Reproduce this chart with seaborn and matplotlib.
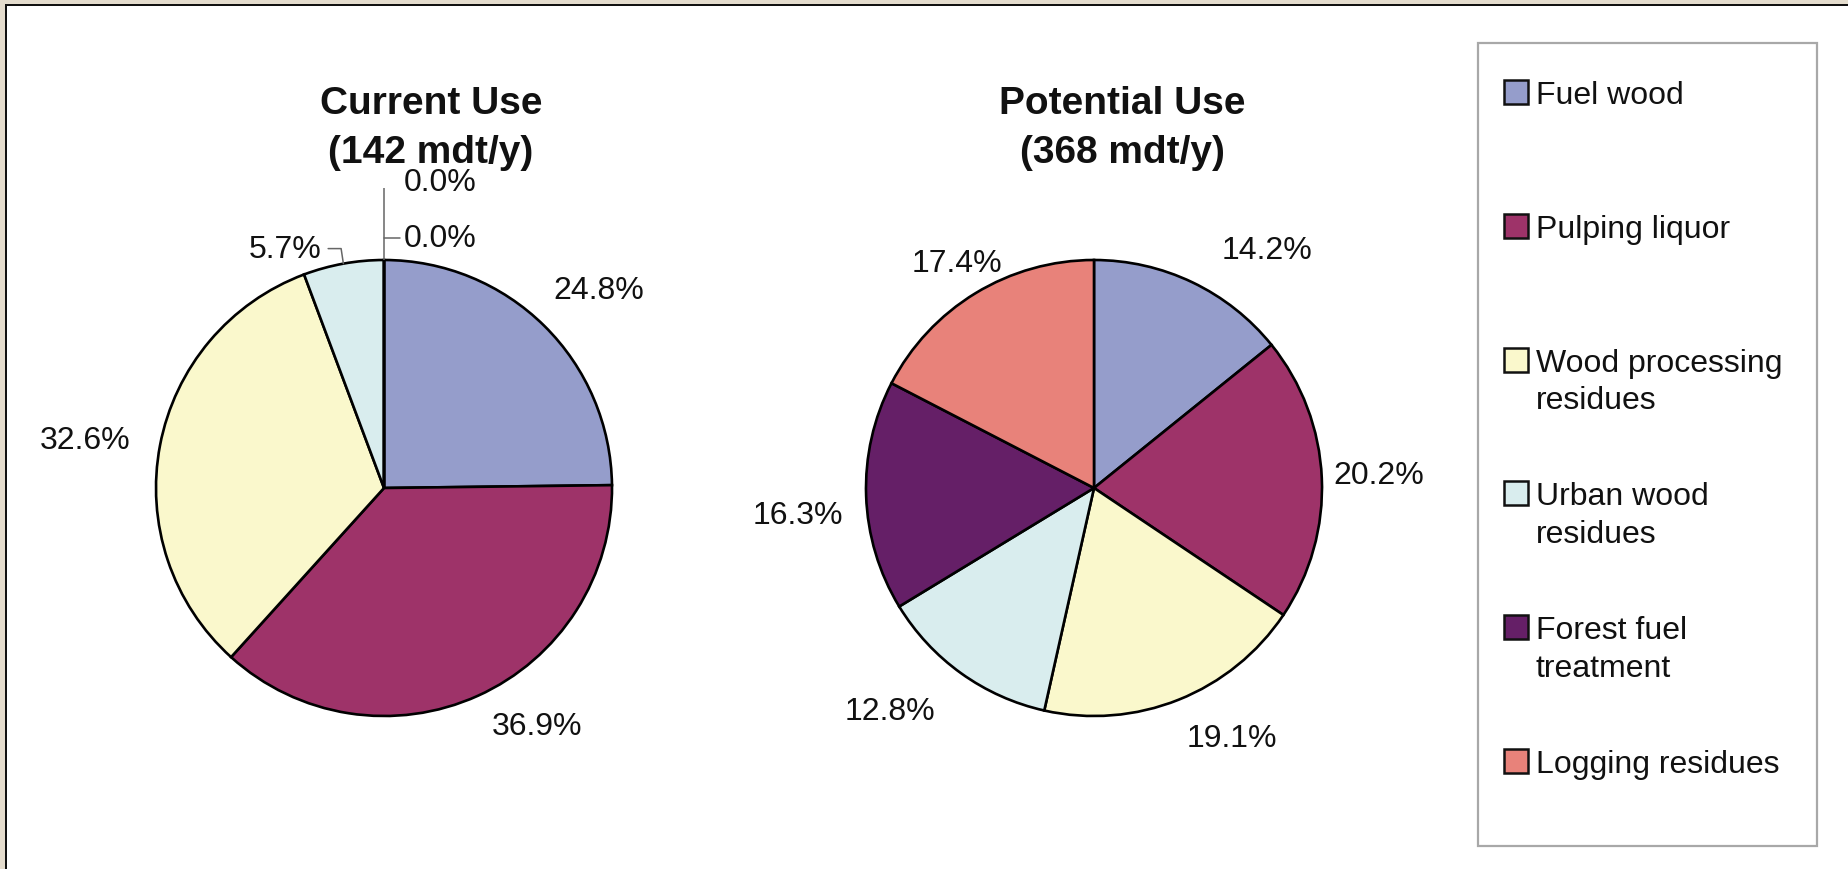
import matplotlib
matplotlib.use("Agg")
import matplotlib.pyplot as plt
from matplotlib.patches import Rectangle
import numpy as np
import seaborn as sns

# ---------------- data ----------------
categories = ["Fuel wood", "Pulping liquor", "Wood processing\nresidues",
              "Urban wood\nresidues", "Forest fuel\ntreatment", "Logging residues"]
current_use = [24.8, 36.9, 32.6, 5.7, 0.0, 0.0]
potential_use = [14.2, 20.2, 19.1, 12.8, 16.3, 17.4]
titles = [("Current Use", "(142 mdt/y)"), ("Potential Use", "(368 mdt/y)")]
colors = ["#959DCB", "#9E3369", "#FAF8CC", "#D9EDEE", "#651F67", "#E8827A"]

# label positions (layout, in pie-radius units)
current_label_xy = [(0.94, 0.87), (0.67, -1.045), (-1.31, 0.21), (-0.275, 1.05),
                    (0.085, 1.096), (0.085, 1.342)]
potential_label_xy = [(0.76, 1.045), (1.25, 0.057), (0.605, -1.096), (-0.895, -0.98),
                      (-1.30, -0.118), (-0.60, 0.987)]

sns.set_theme(style="white")
plt.rcParams["font.family"] = ["Liberation Sans", "DejaVu Sans"]

W, H = 1848, 870
fig = plt.figure(figsize=(W / 100, H / 100), dpi=100)
fig.patch.set_facecolor("white")

R = 228.0  # pie radius in px
HALF = 300.0


def pie_axes(cx, cy):
    ax = fig.add_axes([(cx - HALF) / W, (H - cy - HALF) / H, 2 * HALF / W, 2 * HALF / H])
    return ax


def finish(ax):
    lim = HALF / R
    ax.set_xlim(-lim, lim)
    ax.set_ylim(-lim, lim)
    ax.set_aspect("equal")
    ax.axis("off")


FS = 23
TXT = "#111111"
wedge_kw = dict(edgecolor="black", linewidth=1.9)

# ---- Current use ----
ax1 = pie_axes(384, 489)
ax1.pie(current_use, colors=sns.color_palette(colors), startangle=90, counterclock=False,
        wedgeprops=wedge_kw, radius=1.0, center=(0, 0), frame=True)
finish(ax1)

cum = np.concatenate([[0], np.cumsum(current_use)])
start = 90 - cum[:-1] / 100 * 360
end = 90 - cum[1:] / 100 * 360
mid = np.deg2rad((start + end) / 2)
for v, (x, y) in zip(current_use, current_label_xy):
    txt = f"{v:.1f}%"
    if v == 0:
        ha = "left"
    elif v < 8:
        ha = "right"
    else:
        ha = "center"
    ax1.text(x, y, txt, ha=ha, va="center", fontsize=FS, color=TXT)

# leader lines for small / zero slices
lc = "#666666"
zero_idx = [i for i, v in enumerate(current_use) if v == 0]
if zero_idx:
    a = mid[zero_idx[0]]
    x0, y0 = np.cos(a), np.sin(a)
    ytop = max(current_label_xy[i][1] for i in zero_idx)
    ax1.plot([x0, x0], [y0, ytop], color=lc, lw=1.1, solid_capstyle="butt")
    for i in zero_idx:
        ax1.plot([x0, current_label_xy[i][0] - 0.015], [current_label_xy[i][1]] * 2,
                 color=lc, lw=1.1)
i_small = 3
a = mid[i_small]
xa, ya = np.cos(a), np.sin(a)
lx, ly = current_label_xy[i_small]
ax1.plot([xa, xa - 0.01, lx + 0.03], [ya, ly, ly], color=lc, lw=1.1)

# ---- Potential use ----
ax2 = pie_axes(1094, 489)
ax2.pie(potential_use, colors=sns.color_palette(colors), startangle=90, counterclock=False,
        wedgeprops=wedge_kw, radius=1.0, center=(0, 0), frame=True)
finish(ax2)
for v, (x, y) in zip(potential_use, potential_label_xy):
    ax2.text(x, y, f"{v:.1f}%", ha="center", va="center", fontsize=FS, color=TXT)

# ---- overlay (pixel coordinates) for titles, legend ----
ov = fig.add_axes([0, 0, 1, 1], zorder=-1)
ov.set_xlim(0, W)
ov.set_ylim(H, 0)
ov.axis("off")

for (t1, t2), xc in zip(titles, [431, 1122]):
    ov.text(xc, 104, t1, ha="center", va="center", fontsize=28, fontweight="bold", color=TXT)
    ov.text(xc, 153, t2, ha="center", va="center", fontsize=28, fontweight="bold", color=TXT)

# legend box
ov.add_patch(Rectangle((1478, 44), 339, 803, facecolor="white", edgecolor="#A8A8A8", lw=1.6))
for k, (lab, col) in enumerate(zip(categories, colors)):
    yc = 93 + k * 133.8
    ov.add_patch(Rectangle((1504, yc - 12), 24, 24, facecolor=col, edgecolor=TXT, lw=1.8))
    for j, line in enumerate(lab.split("\n")):
        ov.text(1536, yc + 11 + j * 37.7, line, ha="left", va="baseline",
                fontsize=FS, color=TXT)

# outer frame strips (beige) with black edge
fig.add_artist(Rectangle((0, 1 - 5 / H), 1, 5 / H, transform=fig.transFigure,
                         facecolor="#E4DCCD", edgecolor="none", zorder=10))
fig.add_artist(Rectangle((0, 0), 5 / W, 1, transform=fig.transFigure,
                         facecolor="#E4DCCD", edgecolor="none", zorder=10))
fig.add_artist(Rectangle((5 / W, 1 - 7 / H), 1, 2 / H, transform=fig.transFigure,
                         facecolor="#111111", edgecolor="none", zorder=11))
fig.add_artist(Rectangle((5 / W, 0), 2 / W, 1 - 5 / H, transform=fig.transFigure,
                         facecolor="#111111", edgecolor="none", zorder=11))

fig.savefig("out.png", dpi=100, facecolor="white")
